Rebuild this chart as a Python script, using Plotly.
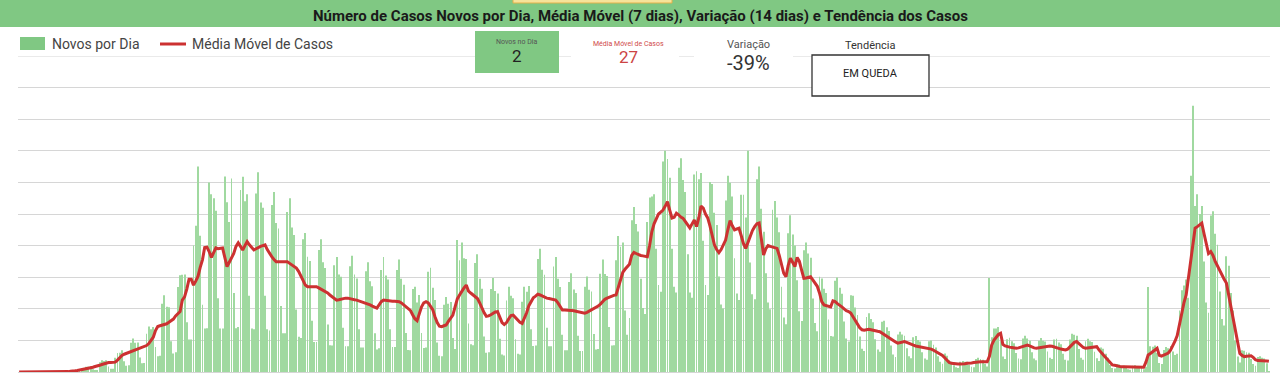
import pandas as pd
import plotly.graph_objects as go

# ---------------- data ----------------
novos_por_dia = [
    0,0,0,0,0,0,0,
    0,0,0,0,0,0,0,
    0,0,0,1,2,0,0,
    0,2,3,3,4,2,2,
    2,10,13,13,14,7,5,
    5,25,30,28,30,14,8,
    8,36,48,49,55,27,16,
    17,74,85,74,75,37,22,
    23,97,115,108,114,63,40,
    41,173,194,165,164,78,47,
    50,215,245,246,247,126,82,
    82,320,370,520,345,170,110,
    111,480,450,440,408,187,110,
    110,495,430,380,490,200,111,
    114,461,494,432,450,193,110,
    108,452,506,429,416,193,108,
    105,423,456,377,363,167,98,
    98,405,440,366,347,158,89,
    86,336,352,292,281,130,76,
    76,309,336,278,263,120,68,
    67,270,291,247,241,112,65,
    65,268,294,247,237,108,62,
    62,255,278,230,217,98,57,
    60,258,291,244,234,108,63,
    63,258,285,236,221,99,56,
    55,210,216,176,195,99,61,
    62,254,264,213,182,75,41,
    40,170,190,173,177,86,58,
    334,283,328,288,286,123,70,
    68,276,298,236,211,90,49,
    50,210,238,205,199,84,44,
    42,181,216,193,187,83,46,
    44,178,216,203,218,108,66,
    67,286,312,259,246,112,65,
    65,267,291,236,215,94,55,
    55,228,250,209,200,92,53,
    53,216,242,208,204,96,57,
    58,249,285,248,243,114,67,
    68,283,344,317,328,156,94,
    137,384,418,375,356,236,162,
    147,380,442,444,450,312,220,
    203,533,560,539,492,312,216,
    201,517,541,486,456,298,201,
    188,500,508,488,504,332,220,
    195,481,476,403,372,242,171,
    161,434,497,479,444,288,199,
    182,449,449,391,560,277,197,
    184,488,520,413,355,250,176,
    159,411,433,391,354,216,138,
    121,351,397,348,320,232,154,
    129,308,328,300,289,186,124,
    103,241,237,211,200,133,91,
    90,231,239,213,198,128,85,
    77,194,193,163,144,90,59,
    53,139,149,134,126,83,57,
    51,127,130,113,104,67,44,
    38,95,102,95,92,60,40,
    35,88,91,81,77,50,34,
    31,78,80,69,62,40,26,
    21,47,41,30,26,17,12,
    10,26,28,26,26,18,13,
    12,33,36,33,31,21,14,
    238,88,110,110,114,78,39,
    33,83,87,78,73,48,34,
    32,85,92,85,79,50,34,
    30,79,86,79,77,52,36,
    33,82,84,75,70,46,31,
    29,82,97,94,92,58,36,
    31,78,84,78,76,51,35,
    28,62,59,46,36,18,10,
    9,20,19,16,16,10,7,
    6,16,17,15,14,10,7,
    13,215,65,64,67,48,23,
    20,56,63,60,66,52,43,
    46,156,207,219,234,188,497,
    674,420,450,400,420,280,176,
    150,396,407,350,322,204,134,
    118,293,269,200,156,80,39,
    24,55,54,50,49,33,20,
    16,38,40,36,34,22,2,
]

media_movel = [
    0,0,0,0,0,0,0,
    0,0,0,0,0,0,0,
    0,0,0,0,1,1,1,
    1,1,2,2,3,4,5,
    6,7,8,10,11,12,14,
    15,17,19,21,23,24,24,
    24,25,30,36,42,45,47,
    49,51,53,55,58,61,63,
    65,67,72,80,88,105,115,
    117,119,121,122,126,130,134,
    142,148,153,182,190,210,235,
    235,220,230,242,265,284,315,
    316,305,290,302,314,312,314,
    314,290,267,278,289,300,318,
    327,318,309,320,330,322,315,
    309,312,316,318,320,322,310,
    300,292,285,279,279,279,279,
    279,279,275,271,267,263,255,
    245,232,220,216,216,216,216,
    216,213,210,206,202,200,195,
    190,186,182,183,185,186,187,
    187,185,184,183,182,180,178,
    177,176,174,170,167,164,162,
    170,178,182,181,180,180,179,
    179,178,178,175,170,165,160,
    156,145,135,130,150,165,175,
    178,175,165,158,140,125,116,
    115,117,119,128,136,144,165,
    185,195,205,213,220,205,200,
    195,190,186,175,162,150,141,
    142,145,149,152,153,140,125,
    120,125,135,143,144,138,131,
    126,123,135,150,168,180,188,
    192,197,195,192,189,187,186,
    185,184,182,175,165,157,157,
    157,157,156,155,154,153,152,
    150,149,151,154,157,160,163,
    167,172,178,184,187,190,192,
    194,195,215,235,252,260,268,
    273,295,303,300,297,295,294,
    293,292,320,355,375,390,400,
    405,410,420,431,410,390,392,
    402,398,392,389,380,372,365,
    375,385,368,390,420,415,400,
    390,370,345,322,310,302,310,
    322,334,360,383,370,360,362,
    364,345,325,313,330,346,358,
    368,375,377,330,296,312,320,
    318,316,314,313,295,270,250,
    241,270,288,278,267,290,280,
    258,237,238,240,241,233,226,
    217,200,178,170,168,166,165,
    180,178,173,170,165,160,155,
    153,149,140,130,120,112,107,
    106,107,108,107,105,104,103,
    102,98,94,90,87,84,80,
    76,73,74,76,77,75,72,
    70,68,66,65,64,63,62,
    61,60,58,55,52,50,47,
    42,36,30,24,22,21,21,
    20,20,20,21,22,22,23,
    24,25,26,26,26,26,26,
    40,68,80,88,95,98,70,
    66,64,63,62,61,60,61,
    63,65,67,68,66,63,61,
    60,61,62,63,64,65,66,
    65,63,61,60,58,57,56,
    58,63,70,75,77,72,66,
    62,60,61,62,63,64,64,
    56,48,43,37,30,23,18,
    17,15,14,13,13,13,12,
    12,12,12,12,12,12,12,
    25,43,47,51,56,60,42,
    40,43,46,48,55,65,78,
    92,120,150,175,195,235,280,
    320,364,368,372,377,350,320,
    300,305,295,280,268,255,244,
    235,225,195,160,130,100,70,
    47,42,39,40,41,41,37,
    31,29,29,29,28,28,27,
]

assert len(novos_por_dia) == len(media_movel)
datas = pd.date_range("2020-03-01", periods=len(novos_por_dia), freq="D")

titulo = "Número de Casos Novos por Dia, Média Móvel (7 dias), Variação (14 dias) e Tendência dos Casos"
kpi_novos_label, kpi_novos = "Novos no Dia", "2"
kpi_mm_label, kpi_mm = "Média Móvel de Casos", "27"
kpi_var_label, kpi_var = "Variação", "-39%"
kpi_tend_label, kpi_tend = "Tendência", "EM QUEDA"
legenda_barras = "Novos por Dia"
legenda_linha = "Média Móvel de Casos"
y_max, y_step = 800, 80

# ---------------- layout helpers (pixel -> paper) ----------------
W, H = 1280, 380
L, R, T, B = 18, 10, 56, 8
PW, PH = W - L - R, H - T - B


def px(x):
    return (x - L) / PW


def py(y):
    return (H - B - y) / PH


GREEN = "#80c883"
BAR_GREEN = "#a0d9a0"
RED = "#cc3131"
GRID = "#d6d6d6"
FONT = "Roboto"

fig = go.Figure()
fig.add_trace(go.Bar(x=datas, y=novos_por_dia, name=legenda_barras,
                     marker=dict(color=BAR_GREEN, line=dict(width=0)),
                     showlegend=False))
fig.add_trace(go.Scatter(x=datas, y=media_movel, name=legenda_linha, mode="lines",
                         line=dict(color=RED, width=3), showlegend=False))

shapes = [
    # top gridline (edge of plot area)
    dict(type="line", xref="paper", yref="y", x0=0, x1=1, y0=y_max, y1=y_max,
         line=dict(color=GRID, width=1), layer="below"),
    # title band
    dict(type="rect", xref="paper", yref="paper", x0=px(0), x1=px(W), y0=py(27), y1=py(0),
         fillcolor=GREEN, line=dict(width=0), layer="above"),
    # yellow tab
    dict(type="rect", xref="paper", yref="paper", x0=px(513), x1=px(672), y0=py(3), y1=py(-2),
         fillcolor="#f7e39a", line=dict(color="#e2b04a", width=1), layer="above"),
    # legend symbols
    dict(type="rect", xref="paper", yref="paper", x0=px(20), x1=px(45), y0=py(50), y1=py(37),
         fillcolor=GREEN, line=dict(width=0), layer="above"),
    dict(type="line", xref="paper", yref="paper", x0=px(160), x1=px(186), y0=py(44), y1=py(44),
         line=dict(color=RED, width=3), layer="above"),
    # KPI boxes
    dict(type="rect", xref="paper", yref="paper", x0=px(475), x1=px(559), y0=py(73), y1=py(31),
         fillcolor=GREEN, line=dict(width=0), layer="above"),
    dict(type="rect", xref="paper", yref="paper", x0=px(571), x1=px(679), y0=py(72), y1=py(31),
         fillcolor="white", line=dict(width=0), layer="above"),
    dict(type="rect", xref="paper", yref="paper", x0=px(694), x1=px(793), y0=py(78), y1=py(31),
         fillcolor="white", line=dict(width=0), layer="above"),
    dict(type="rect", xref="paper", yref="paper", x0=px(812), x1=px(929), y0=py(96), y1=py(55),
         fillcolor="white", line=dict(color="#333333", width=1.3), layer="above"),
]


def ann(text, x, y, size, color, bold=False, xanchor="center"):
    return dict(text=f"<b>{text}</b>" if bold else text, xref="paper", yref="paper",
                x=px(x), y=py(y), xanchor=xanchor, yanchor="middle", showarrow=False,
                font=dict(family=FONT, size=size, color=color))


annotations = [
    ann(titulo, 640, 16, 15, "#1a1a1a", bold=True),
    ann(legenda_barras, 50, 44, 14, "#444444", xanchor="left"),
    ann(legenda_linha, 190, 44, 14, "#444444", xanchor="left"),
    ann(kpi_novos_label, 517, 42, 7, "#555555"),
    ann(kpi_novos, 517, 56, 17, "#222222"),
    ann(kpi_mm_label, 628, 44, 7, "#d04a4a"),
    ann(kpi_mm, 628, 57, 17, "#cc4444"),
    ann(kpi_var_label, 748, 44, 11, "#555555"),
    ann(kpi_var, 748, 63, 20, "#333333"),
    ann(kpi_tend_label, 870, 45, 11, "#333333"),
    ann(kpi_tend, 870, 74, 11, "#222222"),
]

fig.update_layout(
    width=W, height=H, autosize=False,
    margin=dict(l=L, r=R, t=T, b=B, pad=0),
    paper_bgcolor="white", plot_bgcolor="white",
    bargap=0.6,
    font=dict(family=FONT),
    shapes=shapes, annotations=annotations,
    xaxis=dict(showgrid=False, showticklabels=False, zeroline=False, showline=False,
               range=[datas[0] - pd.Timedelta(hours=12), datas[-1] + pd.Timedelta(hours=12)]),
    yaxis=dict(range=[0, y_max], dtick=y_step, showticklabels=False, showgrid=True,
               gridcolor=GRID, gridwidth=1, zeroline=True, zerolinecolor=GRID,
               zerolinewidth=1, showline=False),
)

fig.write_html("out.html", config={"displayModeBar": False},
               post_script="document.body.style.margin='0';")
